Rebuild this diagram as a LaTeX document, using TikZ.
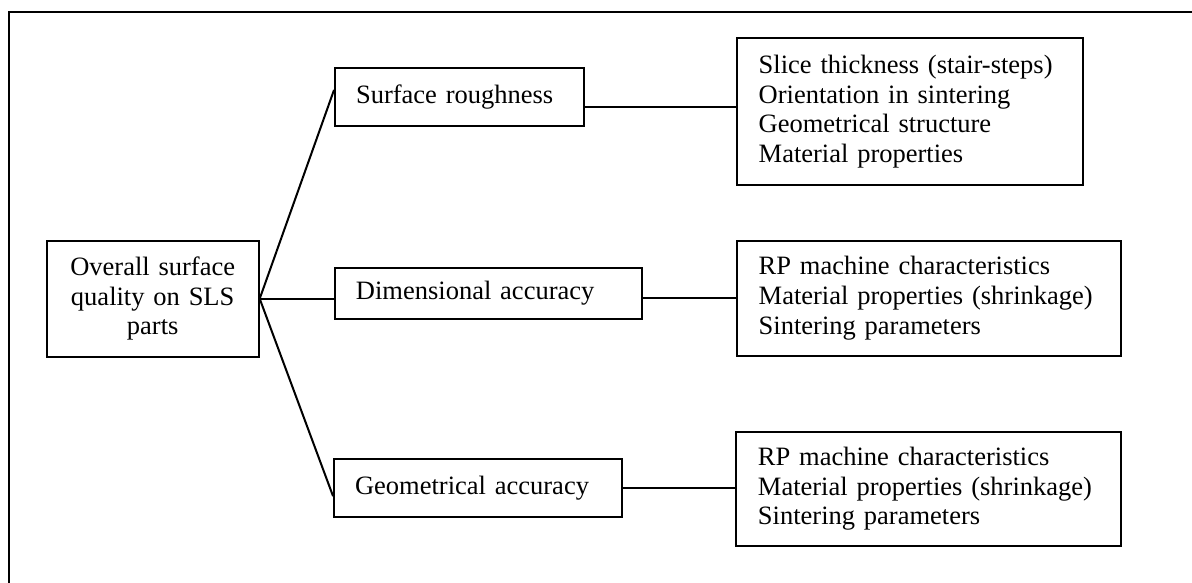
\documentclass[tikz,border=0pt]{standalone}
\usepackage{fontspec}
\setmainfont{Liberation Serif}
\usetikzlibrary{calc}
\begin{document}
\begin{tikzpicture}[x=1pt,y=-1pt,
  every node/.style={font=\fontsize{26.5}{29.6}\selectfont},
  box/.style={draw, line width=2pt, rectangle, inner ysep=0pt},
  lbox/.style={box, align=left, inner xsep=21pt},
  rbox/.style={box, align=left, inner xsep=22pt},
  conn/.style={line width=2pt}]
\useasboundingbox (0,0) rectangle (1192,582);
\draw[line width=2pt] (9,590) -- (9,12) -- (1200,12);
% main box
\node[box, align=center, minimum width=212pt, minimum height=116pt, text width=180pt, inner xsep=16pt] (main) at (152.7,298.7)
  {Overall surface\\ quality on SLS\\ parts};
% middle column
\node[lbox, text width=207.3pt, minimum height=57.4pt] (sr) at (459.7,97) {Surface roughness};
\node[lbox, text width=264.7pt, minimum height=51pt] (da) at (488.3,293.5) {Dimensional accuracy};
\node[lbox, text width=246.3pt, minimum height=57.7pt] (ga) at (478.2,487.8) {Geometrical accuracy};
% right column
\node[rbox, text width=302pt, minimum height=146.7pt] (f1) at (909.7,111.7)
  {Slice thickness (stair-steps)\\ Orientation in sintering\\ Geometrical structure\\ Material properties};
\node[rbox, text width=340pt, minimum height=115pt] (f2) at (928.7,298.2)
  {RP machine characteristics\\ Material properties (shrinkage)\\ Sintering parameters};
\node[rbox, text width=340.7pt, minimum height=114.3pt] (f3) at (928.3,488.8)
  {RP machine characteristics\\ Material properties (shrinkage)\\ Sintering parameters};
% connectors
\coordinate (srin) at ($(sr.north west)!0.38!(sr.south west)$);
\coordinate (gain) at ($(ga.north west)!0.64!(ga.south west)$);
\draw[conn] (main.east) -- (srin);
\draw[conn] (main.east) -- (main.east -| da.west);
\draw[conn] (main.east) -- (gain);
\coordinate (srout) at ($(sr.north east)!0.66!(sr.south east)$);
\coordinate (daout) at ($(da.north east)!0.59!(da.south east)$);
\draw[conn] (srout) -- (srout -| f1.west);
\draw[conn] (daout) -- (daout -| f2.west);
\draw[conn] (ga.east) -- (ga.east -| f3.west);
\end{tikzpicture}
\end{document}
